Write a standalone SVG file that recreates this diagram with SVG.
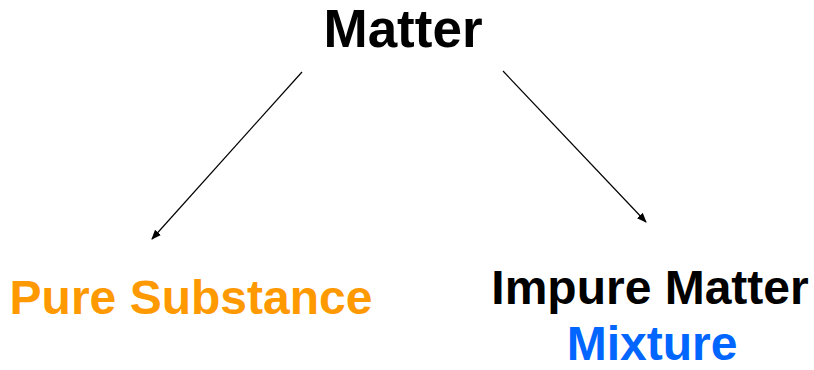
<svg xmlns="http://www.w3.org/2000/svg" width="814" height="370" viewBox="0 0 814 370">
<style>
.t{font-family:"Liberation Sans",Arial,sans-serif;font-weight:bold;text-anchor:middle}
.c{stroke:#000;stroke-width:1.2;fill:none;marker-end:url(#ah)}
</style>
<defs>
<marker id="ah" viewBox="0 0 10 10" refX="9" refY="5" markerWidth="10" markerHeight="10" markerUnits="userSpaceOnUse" orient="auto">
<path d="M0,1 L10,5 L0,9 Z" fill="#000"/>
</marker>
</defs>
<rect width="814" height="370" fill="#fff"/>
<g id="connectors">
<line class="c" x1="302" y1="72" x2="152" y2="239"/>
<line class="c" x1="503" y1="71" x2="646" y2="222"/>
</g>
<g id="matter"><text class="t" x="403" y="47" font-size="53" fill="#000">Matter</text></g>
<g id="pure"><text class="t" x="191" y="314" font-size="48" fill="#FF9900">Pure Substance</text></g>
<g id="impure">
<text class="t" x="650" y="304" font-size="48" fill="#000">Impure Matter</text>
<text class="t" x="652" y="360" font-size="48" fill="#0066FF">Mixture</text>
</g>
</svg>
